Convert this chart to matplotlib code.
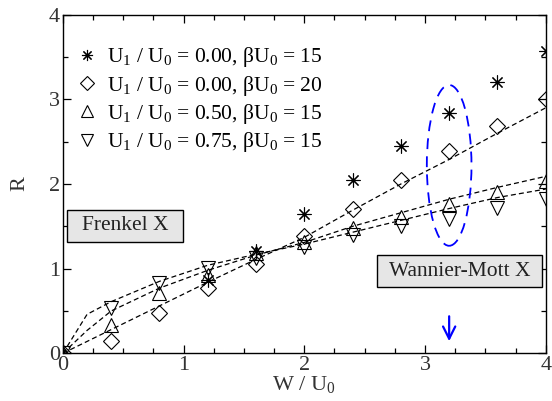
import matplotlib
matplotlib.use("Agg")
import matplotlib.pyplot as plt
from matplotlib.patches import Ellipse, Rectangle
from matplotlib.ticker import MultipleLocator

plt.rcParams['font.family'] = ['Liberation Serif', 'DejaVu Serif']
plt.rcParams['mathtext.fontset'] = 'custom'
plt.rcParams['mathtext.rm'] = 'Liberation Serif'
plt.rcParams['mathtext.it'] = 'Liberation Serif:italic'

# ---- simulation data: R vs W/U0 ----
x_star = [1.2, 1.6, 2.0, 2.4, 2.8, 3.2, 3.6, 4.0]
r_star = [0.86, 1.21, 1.65, 2.05, 2.45, 2.84, 3.21, 3.57]

x_pts = [0.0, 0.4, 0.8, 1.2, 1.6, 2.0, 2.4, 2.8, 3.2, 3.6, 4.0]
r_diam = [0.0, 0.15, 0.47, 0.77, 1.06, 1.39, 1.71, 2.05, 2.39, 2.69, 3.00]
r_up = [0.0, 0.33, 0.71, 0.92, 1.18, 1.32, 1.48, 1.61, 1.76, 1.90, 2.04]
r_down = [0.0, 0.54, 0.83, 1.01, 1.12, 1.26, 1.40, 1.50, 1.59, 1.72, 1.82]

# ---- model curves ----
x_fit = [0.0, 0.2, 0.4, 0.8, 1.2, 1.6, 2.0, 2.4, 2.8, 3.2, 3.6, 4.0]
fit_diam = [0.0, 0.14, 0.28, 0.56, 0.84, 1.11, 1.37, 1.69, 2.00, 2.29, 2.60, 2.90]
fit_up = [0.0, 0.27, 0.50, 0.77, 0.98, 1.16, 1.31, 1.50, 1.66, 1.82, 1.96, 2.09]
fit_down = [0.0, 0.46, 0.61, 0.85, 1.04, 1.17, 1.29, 1.43, 1.57, 1.71, 1.84, 1.94]

labels = [r'U$_1$ / U$_0$ = 0.00, βU$_0$ = 15',
          r'U$_1$ / U$_0$ = 0.00, βU$_0$ = 20',
          r'U$_1$ / U$_0$ = 0.50, βU$_0$ = 15',
          r'U$_1$ / U$_0$ = 0.75, βU$_0$ = 15']

fig = plt.figure(figsize=(5.52, 4.01), dpi=100)
ax = fig.add_axes([0.114, 0.119, 0.8746, 0.8443])

dash = dict(color='black', lw=0.9, ls=(0, (4, 2.5)))
ax.plot(x_fit, fit_diam, **dash)
ax.plot(x_fit, fit_up, **dash)
ax.plot(x_fit, fit_down, **dash)

mk = dict(ls='none', color='black', mfc='none', mec='black', mew=0.8)
h1, = ax.plot(x_star, r_star, marker=(8, 2, 0), ms=10, **mk)
h2, = ax.plot(x_pts, r_diam, marker='D', ms=8.5, **mk)
h3, = ax.plot(x_pts, r_up, marker='^', ms=10.5, **mk)
h4, = ax.plot(x_pts, r_down, marker='v', ms=10.5, **mk)

leg = ax.legend([h1, h2, h3, h4], labels, loc='upper left',
                bbox_to_anchor=(0.01, 0.935), frameon=False, fontsize=15.5,
                handlelength=1.0, handletextpad=0.4, labelspacing=0.2,
                borderaxespad=0, markerscale=0.8)

# regime labels
ax.add_patch(Rectangle((0.034, 1.315), 0.961, 0.378, fc='#e6e6e6',
                       ec='black', lw=1.0, zorder=3))
ax.text(0.514, 1.504, 'Frenkel X', ha='center', va='center', fontsize=15.5,
        color='#222222', zorder=4)
ax.add_patch(Rectangle((2.602, 0.78), 1.37, 0.381, fc='#e6e6e6',
                       ec='black', lw=1.0, zorder=3))
ax.text(3.287, 0.972, 'Wannier-Mott X', ha='center', va='center',
        fontsize=15.5, color='#222222', zorder=4)

# crossover marker
ax.add_patch(Ellipse((3.2, 2.22), width=0.37, height=1.90, fill=False,
                     ec='blue', lw=1.3, ls=(0, (6, 4)), zorder=5))
ax.annotate('', xy=(3.2, 0.11), xytext=(3.2, 0.47),
            arrowprops=dict(arrowstyle='->', color='blue', lw=1.6,
                            mutation_scale=22))

ax.set_xlim(0, 4)
ax.set_ylim(0, 4)
ax.xaxis.set_major_locator(MultipleLocator(1))
ax.xaxis.set_minor_locator(MultipleLocator(0.25))
ax.yaxis.set_major_locator(MultipleLocator(1))
ax.yaxis.set_minor_locator(MultipleLocator(0.5))
ax.tick_params(which='both', direction='in', top=True, right=True,
               labelsize=16, colors='black', labelcolor='#333333')
ax.tick_params(which='major', length=6, width=0.9, pad=2)
ax.tick_params(which='minor', length=3.5, width=0.9)
for s in ax.spines.values():
    s.set_linewidth(1.0)

ax.set_xlabel(r'W / U$_0$', fontsize=16, labelpad=-1, color='#333333')
ax.set_ylabel('R', fontsize=16, labelpad=14, color='#333333')

fig.savefig('out.png', dpi=100)
